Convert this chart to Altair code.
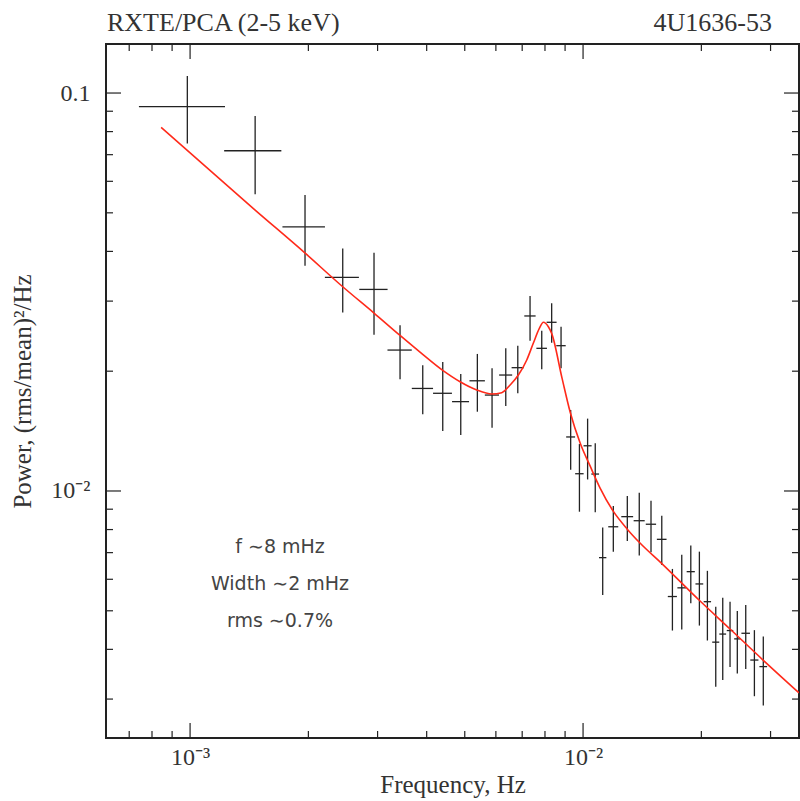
import altair as alt
import pandas as pd

# ---------------- data ----------------
freq = [9.84e-4, 1.464e-3, 1.961e-3, 2.446e-3, 2.938e-3, 3.422e-3, 3.909e-3, 4.395e-3,
        4.884e-3, 5.383e-3, 5.867e-3, 6.358e-3, 6.822e-3, 7.33e-3, 7.85e-3, 8.32e-3,
        8.79e-3, 9.30e-3, 9.79e-3, 1.027e-2, 1.074e-2, 1.122e-2, 1.194e-2, 1.296e-2,
        1.390e-2, 1.489e-2, 1.586e-2, 1.688e-2, 1.783e-2, 1.880e-2, 1.977e-2, 2.072e-2,
        2.176e-2, 2.267e-2, 2.366e-2, 2.469e-2, 2.594e-2, 2.729e-2, 2.875e-2]
freq_halfwidth = [2.43e-4] * 22 + [3.5e-4] + [4.5e-4] * 13 + [6.5e-4] * 3
power = [0.0924, 0.0716, 0.0461, 0.0344, 0.0321, 0.0226, 0.0181, 0.0176, 0.01677, 0.01892,
         0.01742, 0.01956, 0.02041, 0.02753, 0.02283, 0.02654, 0.02318, 0.01367, 0.01105,
         0.01299, 0.01103, 0.0068, 0.00813, 0.00862, 0.00842, 0.00825, 0.00756, 0.00543,
         0.00571, 0.00627, 0.00584, 0.00527, 0.00417, 0.00437, 0.00446, 0.00425, 0.00439,
         0.00376, 0.00362]
power_hi = [0.1103, 0.0876, 0.0554, 0.0407, 0.0397, 0.0261, 0.0207, 0.0211, 0.01968, 0.0221,
            0.02034, 0.02283, 0.02318, 0.0309, 0.02528, 0.02961, 0.02587, 0.01598, 0.01312,
            0.0152, 0.01318, 0.00809, 0.00917, 0.00971, 0.0099, 0.00945, 0.00867, 0.00637,
            0.00691, 0.00729, 0.00704, 0.0063, 0.00512, 0.00539, 0.00527, 0.004995, 0.00517,
            0.00447, 0.00431]
power_lo = [0.0747, 0.0557, 0.0368, 0.0281, 0.0247, 0.0191, 0.0156, 0.01415, 0.01382, 0.01582,
            0.01442, 0.01635, 0.0176, 0.02385, 0.02022, 0.02358, 0.02034, 0.0113, 0.00887,
            0.01069, 0.00884, 0.00548, 0.00704, 0.00749, 0.00688, 0.00702, 0.00652, 0.00446,
            0.00449, 0.00522, 0.00459, 0.00421, 0.00322, 0.00335, 0.00361, 0.00348, 0.00357,
            0.00305, 0.00289]

# model curve
model_freq = [8.44e-4, 1.464e-3, 1.962e-3, 2.446e-3, 2.938e-3, 3.422e-3, 3.847e-3, 4.395e-3,
              4.864e-3, 5.364e-3, 5.856e-3, 6.21e-3, 6.52e-3, 6.846e-3, 7.19e-3, 7.47e-3,
              7.74e-3, 7.925e-3, 8.16e-3, 8.32e-3, 8.84e-3, 9.27e-3, 9.83e-3, 1.042e-2,
              1.105e-2, 1.192e-2, 1.294e-2, 1.396e-2, 1.589e-2, 1.985e-2, 2.366e-2,
              2.871e-2, 3.544e-2]
model_power = [0.0820, 0.0508, 0.0396, 0.0326, 0.0280, 0.0246, 0.02234, 0.0201, 0.01882,
               0.01794, 0.01753, 0.01766, 0.01846, 0.01956, 0.02134, 0.0235, 0.02563, 0.02654,
               0.02587, 0.02489, 0.01922, 0.0158, 0.0132, 0.01156, 0.01017, 0.00891, 0.00803,
               0.0074, 0.00656, 0.00529, 0.0045, 0.00376, 0.00311]

x_major = [1e-3, 1e-2]
x_minor = [7e-4, 8e-4, 9e-4, 2e-3, 3e-3, 4e-3, 5e-3, 6e-3, 7e-3, 8e-3, 9e-3, 2e-2, 3e-2]
y_major = [1e-2, 1e-1]
y_minor = [3e-3, 4e-3, 5e-3, 6e-3, 7e-3, 8e-3, 9e-3, 2e-2, 3e-2, 4e-2, 5e-2, 6e-2, 7e-2, 8e-2, 9e-2]

x_domain = [6.11e-4, 3.544e-2]
y_domain = [2.395e-3, 0.1328]

# ---------------- chart ----------------
W, H = 693, 694
SERIF = "Liberation Serif"
SANS = "DejaVu Sans"
INK = "#222222"
TXT = "#333333"

df = pd.DataFrame({
    "f": freq,
    "f_lo": [a - b for a, b in zip(freq, freq_halfwidth)],
    "f_hi": [a + b for a, b in zip(freq, freq_halfwidth)],
    "p": power, "p_lo": power_lo, "p_hi": power_hi,
})
mdf = pd.DataFrame({"f": model_freq, "p": model_power})

xs = alt.Scale(type="log", domain=x_domain, nice=False)
ys = alt.Scale(type="log", domain=y_domain, nice=False)

x_axis = alt.Axis(
    values=x_major, labelExpr="datum.value < 0.005 ? '10⁻³' : '10⁻²'",
    ticks=False, domain=False, grid=False,
    labelFont=SERIF, labelFontSize=24, labelColor=TXT, labelPadding=7,
    title="Frequency, Hz", titleFont=SERIF, titleFontSize=25, titleFontWeight="normal",
    titleColor=TXT, titleY=54, titleBaseline="alphabetic",
)
y_axis = alt.Axis(
    values=y_major, labelExpr="datum.value > 0.05 ? '0.1' : '10⁻²'",
    ticks=False, domain=False, grid=False,
    labelFont=SERIF, labelFontSize=24, labelColor=TXT, labelPadding=16,
    title="Power, (rms/mean)²/Hz", titleFont=SERIF, titleFontSize=25,
    titleFontWeight="normal", titleColor=TXT, titleX=-84, titleY=H / 2,
    titleAngle=270, titleBaseline="middle",
)

X = lambda field: alt.X(field, scale=xs, axis=x_axis)
Y = lambda field: alt.Y(field, scale=ys, axis=y_axis)

vbars = alt.Chart(df).mark_rule(color=INK, strokeWidth=1.3).encode(
    x=X("f:Q"), y=Y("p_lo:Q"), y2="p_hi:Q",
)
hbars = alt.Chart(df).mark_rule(color=INK, strokeWidth=1.3).encode(
    x=X("f_lo:Q"), x2="f_hi:Q", y=Y("p:Q"),
)
model = alt.Chart(mdf).mark_line(color="#ff2a1a", strokeWidth=1.6, clip=True,
                                 interpolate="monotone").encode(
    x=X("f:Q"), y=Y("p:Q"),
)

def xticks(vals, length):
    d = pd.DataFrame({"f": vals})
    bot = alt.Chart(d).mark_rule(color=INK, strokeWidth=1.2).encode(
        x=X("f:Q"), y=alt.value(H), y2=alt.value(H - length))
    top = alt.Chart(d).mark_rule(color=INK, strokeWidth=1.2).encode(
        x=X("f:Q"), y=alt.value(0), y2=alt.value(length))
    return [bot, top]

def yticks(vals, length):
    d = pd.DataFrame({"p": vals})
    left = alt.Chart(d).mark_rule(color=INK, strokeWidth=1.2).encode(
        y=Y("p:Q"), x=alt.value(0), x2=alt.value(length))
    right = alt.Chart(d).mark_rule(color=INK, strokeWidth=1.2).encode(
        y=Y("p:Q"), x=alt.value(W), x2=alt.value(W - length))
    return [left, right]

tick_layers = xticks(x_major, 15) + xticks(x_minor, 7) + yticks(y_major, 15) + yticks(y_minor, 7)

title_left = alt.Chart(pd.DataFrame({"a": [0]})).mark_text(
    text="RXTE/PCA (2-5 keV)", font=SERIF, fontSize=26, color=TXT,
    align="left", baseline="alphabetic").encode(x=alt.value(1), y=alt.value(-13))
title_right = alt.Chart(pd.DataFrame({"a": [0]})).mark_text(
    text="4U1636-53", font=SERIF, fontSize=26, color=TXT,
    align="right", baseline="alphabetic").encode(x=alt.value(666), y=alt.value(-13))
note = alt.Chart(pd.DataFrame({"a": [0]})).mark_text(
    text="f ∼8 mHz\nWidth ∼2 mHz\nrms ∼0.7%", lineBreak="\n", lineHeight=37,
    font=SANS, fontSize=19, color="#444444", align="center", baseline="middle"
).encode(x=alt.value(174), y=alt.value(503))

chart = alt.layer(
    vbars, hbars, model, *tick_layers, title_left, title_right, note
).properties(
    width=W, height=H,
    autosize=alt.AutoSizeParams(type="none"),
    padding={"left": 106, "top": 44, "right": 1, "bottom": 63},
    background="white",
).configure_view(stroke=INK, strokeWidth=2)

chart.save("out.html", embed_options={"renderer": "svg", "actions": False})
